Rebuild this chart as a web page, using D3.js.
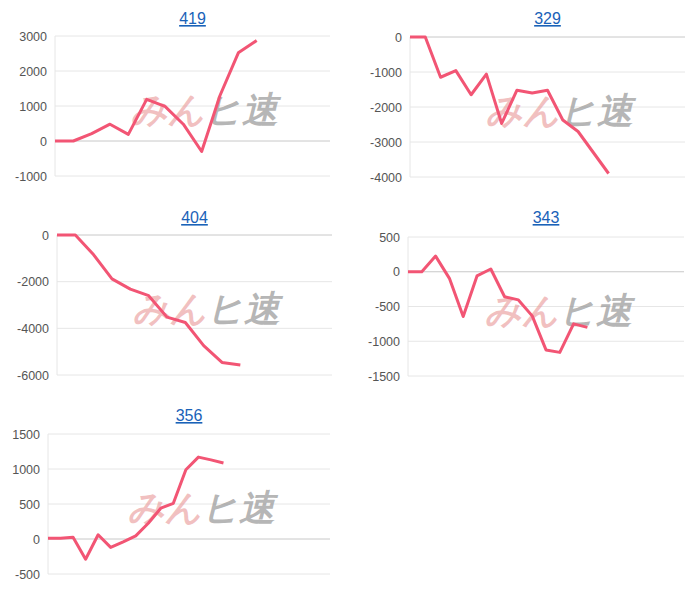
<!DOCTYPE html>
<html><head><meta charset="utf-8">
<script src="https://cdn.jsdelivr.net/npm/d3@7"></script>
<style>body{margin:0;background:#fff}text{font-family:Helvetica,Arial,"Liberation Sans",sans-serif}</style>
</head><body>
<svg id="c" width="700" height="592"></svg>
<script>
"use strict"
// panel titles and cumulative values
var titles = ["419","329","404","343","356"]
var s419 = [0,0,210,480,190,1190,990,480,-300,1300,2520,2870]
var s329 = [0,0,-1150,-960,-1650,-1060,-2470,-1520,-1600,-1520,-2370,-2700,-3300,-3900]
var s404 = [0,0,-850,-1880,-2320,-2600,-3520,-3750,-4740,-5460,-5570]
var s343 = [0,0,225,-95,-645,-60,40,-360,-405,-635,-1125,-1160,-750,-800]
var s356 = [10,10,25,-290,60,-120,-40,45,225,440,510,990,1170,1130,1085]
var slots = [16,19,16,21,23.5]
var yDomains = [[-1000,3000],[-4000,0],[-6000,0],[-1500,500],[-500,1500]]
var yTicks = [[-1000,0,1000,2000,3000],[-4000,-3000,-2000,-1000,0],[-6000,-4000,-2000,0],[-1500,-1000,-500,0,500],[-500,0,500,1000,1500]]
var series = [s419,s329,s404,s343,s356]

var boxes = [
	{x0:55,x1:330,top:36,bot:176,ty:18},
	{x0:410,x1:685,top:37,bot:177,ty:18},
	{x0:57,x1:332,top:235,bot:375,ty:217},
	{x0:408,x1:684,top:237,bot:376,ty:217},
	{x0:48,x1:330,top:434,bot:574,ty:415}
]
var svg = d3.select("#c")

series.forEach(function(data,i){
	var b = boxes[i]
	var g = svg.append("g")
	var x = d3.scaleLinear().domain([0,slots[i]-1]).range([b.x0,b.x1])
	var y = d3.scaleLinear().domain(yDomains[i]).range([b.bot,b.top])

	g.append("text").attr("x",(b.x0+b.x1)/2).attr("y",b.ty+6)
		.attr("text-anchor","middle").attr("font-size",16).attr("fill","#1a62b8")
		.attr("text-decoration","underline").text(titles[i])

	var ax = g.append("g").attr("transform","translate("+b.x0+",0)")
		.call(d3.axisLeft(y).tickValues(yTicks[i]).tickSize(0).tickPadding(8).tickFormat(function(d){return String(d)}))
	ax.select(".domain").remove()
	ax.selectAll("text").attr("font-size",12.5).attr("fill","#555")
		.attr("font-family","Helvetica,Arial,'Liberation Sans',sans-serif")

	g.selectAll("line.grid").data(yTicks[i]).enter().append("line")
		.attr("x1",b.x0).attr("x2",b.x1).attr("y1",y).attr("y2",y)
		.attr("stroke",function(d){return d===0?"#c8c8c8":"#e6e6e6"}).attr("stroke-width",1)
	g.append("line").attr("x1",b.x0).attr("x2",b.x0).attr("y1",b.top).attr("y2",b.bot)
		.attr("stroke","#e6e6e6")

	// watermark
	var cx = (b.x0+b.x1)/2+12, cy = (b.top+b.bot)/2+16
	var wm = g.append("text").attr("x",cx).attr("y",cy).attr("text-anchor","middle")
		.attr("font-size",36).attr("font-weight","900").attr("font-style","italic")
		.attr("font-family","'Noto Sans CJK JP',sans-serif")
	wm.append("tspan").attr("fill","rgba(232,150,150,0.6)").text("みん")
	wm.append("tspan").attr("fill","rgba(150,150,150,0.7)").text("ヒ速")

	g.append("path").datum(data)
		.attr("d",d3.line().x(function(d,k){return x(k)}).y(function(d){return y(d)}))
		.attr("fill","none").attr("stroke","#f25574").attr("stroke-width",3)
		.attr("stroke-linejoin","round")
})
</script>
</body></html>
